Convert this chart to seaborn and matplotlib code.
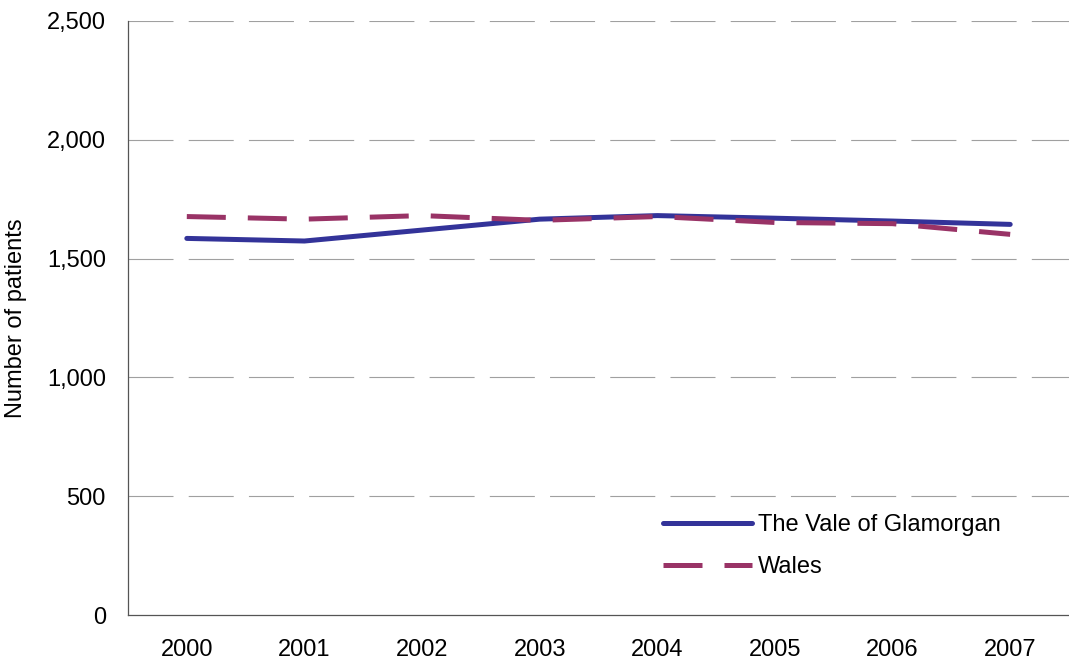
import matplotlib
matplotlib.use("Agg")
import matplotlib.pyplot as plt
import seaborn as sns
import pandas as pd
import numpy as np

years = ["2000", "2001", "2002", "2003", "2004", "2005", "2006", "2007"]
vale = [1585, 1574, 1620, 1666, 1681, 1670, 1658, 1644]
wales = [1677, 1666, 1681, 1661, 1677, 1652, 1647, 1602]
series_names = ["The Vale of Glamorgan", "Wales"]
yticks = [0, 500, 1000, 1500, 2000, 2500]

sns.set_style("white")
plt.rcParams["font.family"] = ["Liberation Sans", "DejaVu Sans"]
plt.rcParams["text.color"] = "black"
plt.rcParams["axes.labelcolor"] = "black"
plt.rcParams["xtick.color"] = "black"
plt.rcParams["ytick.color"] = "black"

df = pd.DataFrame({
    "x": list(range(len(years))) * 2,
    "value": vale + wales,
    "series": [series_names[0]] * len(years) + [series_names[1]] * len(years),
})

fig = plt.figure(figsize=(10.69, 6.66), dpi=100)
ax = fig.add_axes([128 / 1069, 51 / 666, 1 - 128 / 1069, 594 / 666])

LW = 3.6
palette = {series_names[0]: "#333399", series_names[1]: "#993366"}
dashes = {series_names[0]: "", series_names[1]: (7.8, 4.4)}
sns.lineplot(data=df, x="x", y="value", hue="series", style="series",
             palette=palette, dashes=dashes, linewidth=LW, ax=ax,
             legend=True)

FS = 17
ax.set_ylim(0, 2500)
ax.set_xlim(-0.5, -0.5 + (1069 - 128) / 119)
ax.set_yticks(yticks)
ax.set_yticklabels([f"{v:,}" for v in yticks], fontsize=FS)
ax.set_xticks(range(len(years)))
ax.set_xticklabels(years, fontsize=FS)
ax.set_xticks(np.arange(-0.5, len(years), 1.0), minor=True)
ax.tick_params(axis="x", which="major", length=0, pad=17)
ax.tick_params(axis="x", which="minor", length=9, width=0.8, color="#333333", direction="out")
ax.tick_params(axis="y", which="major", length=6, width=0.8, color="#333333", direction="out", pad=10)
ax.set_xlabel("")
ax.set_ylabel("Number of patients", fontsize=FS, labelpad=14)

for v in yticks[1:]:
    ax.axhline(v, color="#a0a0a0", linewidth=0.8, linestyle=(0, (40.5, 13.7)), zorder=0)

for s in ["top", "right"]:
    ax.spines[s].set_visible(False)
for s in ["left", "bottom"]:
    ax.spines[s].set_color("#555555")
    ax.spines[s].set_linewidth(0.9)

handles, labels = ax.get_legend_handles_labels()
leg = ax.legend(handles, labels, loc="upper left", bbox_to_anchor=(642 / 1069, (666 - 493) / 666),
                bbox_transform=fig.transFigure, frameon=False, fontsize=FS,
                handlelength=3.75, handletextpad=0.25, labelspacing=0.85)

fig.savefig("out.png", dpi=100)
